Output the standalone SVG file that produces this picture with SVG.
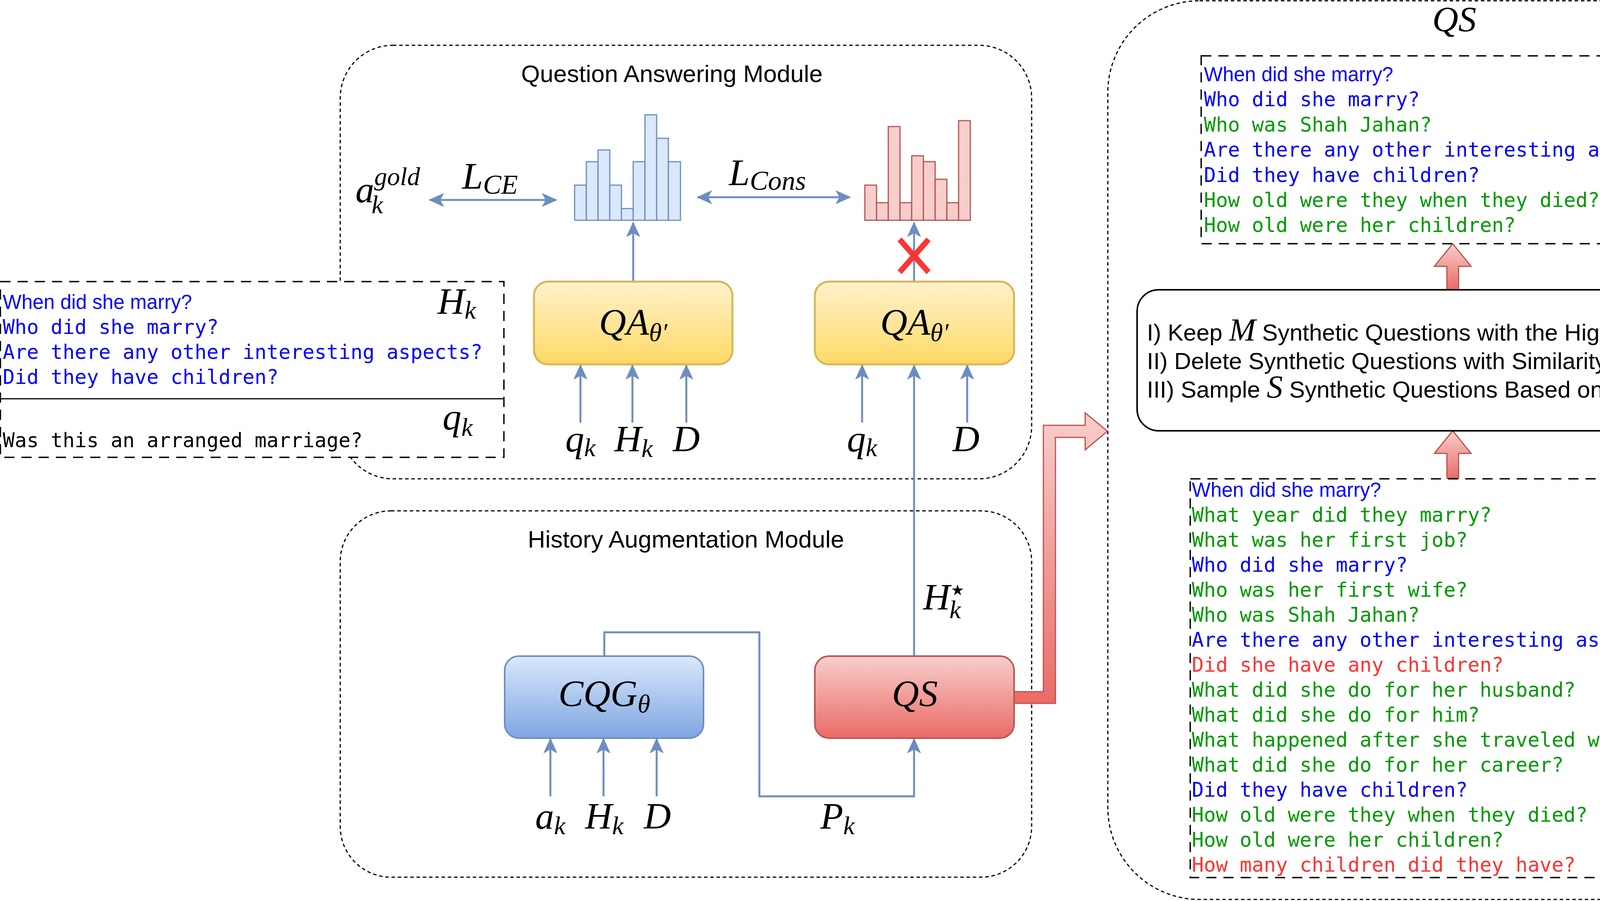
<svg xmlns="http://www.w3.org/2000/svg" width="4578" height="2307" viewBox="0 0 4578 2307">
<defs>
<linearGradient id="gY" x1="0" y1="0" x2="0" y2="1"><stop offset="0" stop-color="#fff2cc"/><stop offset="1" stop-color="#ffd966"/></linearGradient>
<linearGradient id="gB" x1="0" y1="0" x2="0" y2="1"><stop offset="0" stop-color="#dae8fc"/><stop offset="1" stop-color="#7ea6e0"/></linearGradient>
<linearGradient id="gR" x1="0" y1="0" x2="0" y2="1"><stop offset="0" stop-color="#f8cecc"/><stop offset="1" stop-color="#ea6b66"/></linearGradient>
<marker id="ah" markerUnits="userSpaceOnUse" markerWidth="38" markerHeight="38" viewBox="0 0 38 38" refX="36" refY="19" orient="auto-start-reverse"><path d="M1,3 L36,19 L1,35 L10,19 Z" fill="#6c8ebf" stroke="#6c8ebf" stroke-width="2"/></marker>
<style>
.mod{fill:none;stroke:#000;stroke-width:3;stroke-dasharray:9 7}
.tb{fill:#fff;stroke:#000;stroke-width:3.5;stroke-dasharray:26 18}
.conn{fill:none;stroke:#6c8ebf;stroke-width:5}
.arr{marker-end:url(#ah)}
.sans{font-family:"Liberation Sans",Arial,sans-serif}
.mono{font-family:"DejaVu Sans Mono","Liberation Mono",monospace;font-size:51px}
.q1{font-family:"Liberation Sans",Arial,sans-serif;font-size:51px}
.m{font-family:"Liberation Serif","Times New Roman",serif;font-style:italic}
.big{font-size:96px}
.st{font-family:"DejaVu Sans",sans-serif;font-style:normal;font-size:38px}
.title{font-family:"Liberation Sans",Arial,sans-serif;font-size:62px;text-anchor:middle}
.b{fill:#0000ff}.g{fill:#009900}.r{fill:#ff3333}.k{fill:#000}
.hb{fill:#dae8fc;stroke:#6c8ebf;stroke-width:3}
.hr{fill:#f8cecc;stroke:#b85450;stroke-width:3}
.fat{stroke:#b85450;stroke-width:3}
</style>
</defs>

<g id="modules">
<rect id="qa-module" class="mod" x="871" y="116" width="1770" height="1110" rx="135"/>
<text class="title" x="1720" y="210">Question Answering Module</text>
<rect id="ha-module" class="mod" x="871" y="1308" width="1770" height="938" rx="130"/>
<text class="title" x="1756" y="1402">History Augmentation Module</text>
<rect id="qs-panel" class="mod" x="2836" y="2" width="1739" height="2301" rx="235"/>
<text class="m" x="3723" y="80" font-size="92" text-anchor="middle">QS</text>
</g>

<g id="hk-box">
<rect class="tb" x="1" y="721" width="1289" height="450"/>
<line x1="1" y1="1021" x2="1290" y2="1021" stroke="#000" stroke-width="3"/>
<text class="q1 b" x="7" y="791">When did she marry?</text>
<text class="mono b" x="7" y="855">Who did she marry?</text>
<text class="mono b" x="7" y="919">Are there any other interesting aspects?</text>
<text class="mono b" x="7" y="983">Did they have children?</text>
<text class="m big" x="1120" y="804">H<tspan font-size="66" dy="12">k</tspan></text>
<text class="mono k" x="7" y="1145">Was this an arranged marriage?</text>
<text class="m big" x="1133" y="1100">q<tspan font-size="66" dy="16">k</tspan></text>
</g>

<g id="connectors">
<line class="conn arr" x1="1621" y1="721" x2="1621" y2="570"/>
<line class="conn arr" x1="2340" y1="721" x2="2340" y2="570"/>
<line class="conn" x1="1100" y1="512" x2="1424" y2="512" style="marker-start:url(#ah);marker-end:url(#ah)"/>
<line class="conn" x1="1786" y1="505" x2="2176" y2="505" style="marker-start:url(#ah);marker-end:url(#ah)"/>
<line class="conn arr" x1="1486" y1="1082" x2="1486" y2="935"/>
<line class="conn arr" x1="1619" y1="1082" x2="1619" y2="935"/>
<line class="conn arr" x1="1757" y1="1082" x2="1757" y2="935"/>
<line class="conn arr" x1="2207" y1="1082" x2="2207" y2="935"/>
<line class="conn arr" x1="2476" y1="1082" x2="2476" y2="935"/>
<line class="conn arr" x1="2340" y1="1680" x2="2340" y2="935"/>
<line class="conn arr" x1="1409" y1="2039" x2="1409" y2="1892"/>
<line class="conn arr" x1="1545" y1="2039" x2="1545" y2="1892"/>
<line class="conn arr" x1="1681" y1="2039" x2="1681" y2="1892"/>
<polyline class="conn arr" points="1547,1680 1547,1619 1944,1619 1944,2039 2340,2039 2340,1892"/>
<path class="fat" fill="url(#gR)" d="M2596,1771 L2671,1771 L2671,1089 L2778,1089 L2778,1057 L2835,1104 L2778,1152 L2778,1120 L2702,1120 L2702,1801 L2596,1801 Z"/>
<path class="fat" fill="url(#gR)" d="M3719,624 L3766,682 L3734,682 L3734,742 L3704,742 L3704,682 L3672,682 Z"/>
<path class="fat" fill="url(#gR)" d="M3719,1103 L3766,1161 L3734,1161 L3734,1225 L3704,1225 L3704,1161 L3672,1161 Z"/>
<g stroke="#ff3333" stroke-width="14" stroke-linecap="butt">
<line x1="2303" y1="613" x2="2377" y2="697"/>
<line x1="2377" y1="613" x2="2303" y2="697"/>
</g>
</g>

<g id="labels">
<text class="m big" x="910" y="518">a<tspan font-size="66" dy="-44">gold</tspan><tspan font-size="66" dx="-124" dy="72">k</tspan></text>
<text class="m big" x="1183" y="483">L<tspan font-size="70" dy="13">CE</tspan></text>
<text class="m big" x="1866" y="474">L<tspan font-size="70" dy="12">Cons</tspan></text>
<text class="m big" x="1486" y="1156" text-anchor="middle">q<tspan font-size="66" dy="12">k</tspan></text>
<text class="m big" x="1622" y="1156" text-anchor="middle">H<tspan font-size="66" dy="14">k</tspan></text>
<text class="m big" x="1757" y="1156" text-anchor="middle">D</text>
<text class="m big" x="2207" y="1156" text-anchor="middle">q<tspan font-size="66" dy="12">k</tspan></text>
<text class="m big" x="2473" y="1156" text-anchor="middle">D</text>
<text class="m big" x="2363" y="1561">H<tspan class="st" dx="2" dy="-37">★</tspan><tspan font-size="66" dx="-38" dy="59">k</tspan></text>
<text class="m big" x="1409" y="2122" text-anchor="middle">a<tspan font-size="66" dy="14">k</tspan></text>
<text class="m big" x="1547" y="2122" text-anchor="middle">H<tspan font-size="66" dy="14">k</tspan></text>
<text class="m big" x="1683" y="2122" text-anchor="middle">D</text>
<text class="m big" x="2144" y="2122" text-anchor="middle">P<tspan font-size="66" dy="14">k</tspan></text>
</g>

<g id="hist-blue">
<rect class="hb" x="1471" y="474" width="30" height="90"/>
<rect class="hb" x="1501" y="414" width="30" height="150"/>
<rect class="hb" x="1531" y="384" width="30" height="180"/>
<rect class="hb" x="1561" y="474" width="30" height="90"/>
<rect class="hb" x="1591" y="534" width="30" height="30"/>
<rect class="hb" x="1621" y="414" width="30" height="150"/>
<rect class="hb" x="1651" y="294" width="30" height="270"/>
<rect class="hb" x="1681" y="354" width="30" height="210"/>
<rect class="hb" x="1711" y="414" width="31" height="150"/>
</g>

<g id="hist-red">
<rect class="hr" x="2214" y="474" width="30" height="90"/>
<rect class="hr" x="2244" y="519" width="30" height="45"/>
<rect class="hr" x="2274" y="324" width="30" height="240"/>
<rect class="hr" x="2304" y="519" width="30" height="45"/>
<rect class="hr" x="2334" y="399" width="30" height="165"/>
<rect class="hr" x="2364" y="414" width="30" height="150"/>
<rect class="hr" x="2394" y="459" width="30" height="105"/>
<rect class="hr" x="2424" y="519" width="30" height="45"/>
<rect class="hr" x="2454" y="309" width="30" height="255"/>
</g>

<g id="qa-1">
<rect x="1367" y="721" width="508" height="212" rx="36" fill="url(#gY)" stroke="#d6b656" stroke-width="5"/>
<text class="m big" x="1621" y="857" text-anchor="middle">QA<tspan font-size="66" dy="16">θ′</tspan></text>
</g>
<g id="qa-2">
<rect x="2086" y="721" width="510" height="212" rx="36" fill="url(#gY)" stroke="#d6b656" stroke-width="5"/>
<text class="m big" x="2341" y="857" text-anchor="middle">QA<tspan font-size="66" dy="16">θ′</tspan></text>
</g>
<g id="cqg">
<rect x="1292" y="1680" width="509" height="210" rx="36" fill="url(#gB)" stroke="#6c8ebf" stroke-width="4"/>
<text class="m big" x="1547" y="1808" text-anchor="middle">CQG<tspan font-size="66" dy="16">θ</tspan></text>
</g>
<g id="qs">
<rect x="2086" y="1680" width="510" height="210" rx="36" fill="url(#gR)" stroke="#b85450" stroke-width="4"/>
<text class="m big" x="2342" y="1808" text-anchor="middle">QS</text>
</g>

<g id="hstar-box">
<rect class="tb" x="3075" y="143" width="1291" height="481"/>
<text class="q1 b" x="3082" y="208">When did she marry?</text>
<text class="mono b" x="3082" y="272">Who did she marry?</text>
<text class="mono g" x="3082" y="337">Who was Shah Jahan?</text>
<text class="mono b" x="3082" y="401">Are there any other interesting aspects?</text>
<text class="mono b" x="3082" y="466">Did they have children?</text>
<text class="mono g" x="3082" y="530">How old were they when they died?</text>
<text class="mono g" x="3082" y="594">How old were her children?</text>
<text class="m big" x="4218" y="226">H<tspan class="st" dx="2" dy="-37">★</tspan><tspan font-size="66" dx="-38" dy="59">k</tspan></text>
</g>

<g id="rules-box">
<rect x="2911" y="742" width="1621" height="361" rx="55" fill="#fff" stroke="#000" stroke-width="4"/>
<text class="sans" x="2936" y="872" font-size="60">I) Keep <tspan class="m" font-size="82">M</tspan> Synthetic Questions with the Highest Similarity</text>
<text class="sans" x="2936" y="945" font-size="60">II) Delete Synthetic Questions with Similarity Above <tspan class="m" font-size="82">γ</tspan></text>
<text class="sans" x="2936" y="1018" font-size="60">III) Sample <tspan class="m" font-size="82">S</tspan> Synthetic Questions Based on a Distribution</text>
</g>

<g id="pk-box">
<rect class="tb" x="3047" y="1226" width="1349" height="1021"/>
<text class="q1 b" x="3051" y="1272">When did she marry?</text>
<text class="mono g" x="3051" y="1336">What year did they marry?</text>
<text class="mono g" x="3051" y="1400">What was her first job?</text>
<text class="mono b" x="3051" y="1464">Who did she marry?</text>
<text class="mono g" x="3051" y="1528">Who was her first wife?</text>
<text class="mono g" x="3051" y="1592">Who was Shah Jahan?</text>
<text class="mono b" x="3051" y="1656">Are there any other interesting aspects?</text>
<text class="mono r" x="3051" y="1720">Did she have any children?</text>
<text class="mono g" x="3051" y="1784">What did she do for her husband?</text>
<text class="mono g" x="3051" y="1848">What did she do for him?</text>
<text class="mono g" x="3051" y="1912">What happened after she traveled with him?</text>
<text class="mono g" x="3051" y="1976">What did she do for her career?</text>
<text class="mono b" x="3051" y="2040">Did they have children?</text>
<text class="mono g" x="3051" y="2104">How old were they when they died?</text>
<text class="mono g" x="3051" y="2168">How old were her children?</text>
<text class="mono r" x="3051" y="2232">How many children did they have?</text>
<text class="m big" x="4263" y="1314">P<tspan font-size="66" dy="14">k</tspan></text>
</g>
</svg>
